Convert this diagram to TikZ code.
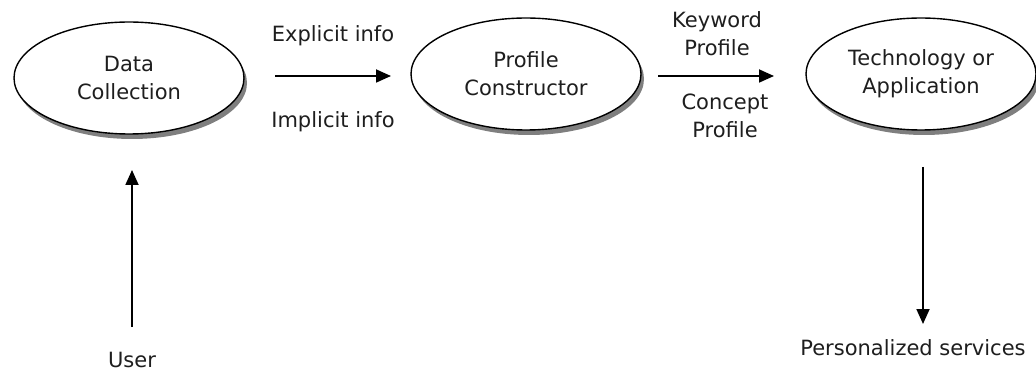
\documentclass[tikz,border=0pt]{standalone}
\usepackage{fontspec}
\setmainfont{DejaVu Sans}
\usetikzlibrary{arrows.meta,shadows,shapes.geometric}
\definecolor{txt}{HTML}{1E1E1E}
\begin{document}
\begin{tikzpicture}[x=1pt,y=-1pt,
  every node/.style={text=txt,font=\fontsize{21}{28}\selectfont,align=center,inner sep=0pt},
  proc/.style={ellipse,draw=black,line width=1.4pt,fill=white,minimum width=230pt,minimum height=112pt,
    drop shadow={shadow xshift=3pt,shadow yshift=-5pt,opacity=0.5,fill=black}},
  flow/.style={draw=black,line width=1.8pt,-{Triangle[length=15pt,width=13pt]}}]
\useasboundingbox[fill=white] (0,0) rectangle (1036,374);
\node[proc] (dc) at (129,78) {Data\\Collection};
\node[proc] (pc) at (526,74) {Profile\\Constructor};
\node[proc] (ta) at (921,74) {Technology or\\Application};
\coordinate (a1s) at (275,76);
\coordinate (a1e) at (391,76);
\draw[flow] (a1s) -- (a1e);
\coordinate (a2s) at (658,76);
\coordinate (a2e) at (774,76);
\draw[flow] (a2s) -- (a2e);
\node (ex) at (333,36) {Explicit info};
\node (im) at (333,122) {Implicit info};
\node (kw) at (717,34) {Keyword\\Profile};
\node (cp) at (725,116) {Concept\\Profile};
\node (user) at (132,360) {User};
\coordinate (us) at (132,327);
\coordinate (ue) at (132,170);
\draw[flow] (us) -- (ue);
\node (ps) at (913,348) {Personalized services};
\coordinate (ts) at (923,167);
\coordinate (te) at (923,324);
\draw[flow] (ts) -- (te);
\end{tikzpicture}
\end{document}
